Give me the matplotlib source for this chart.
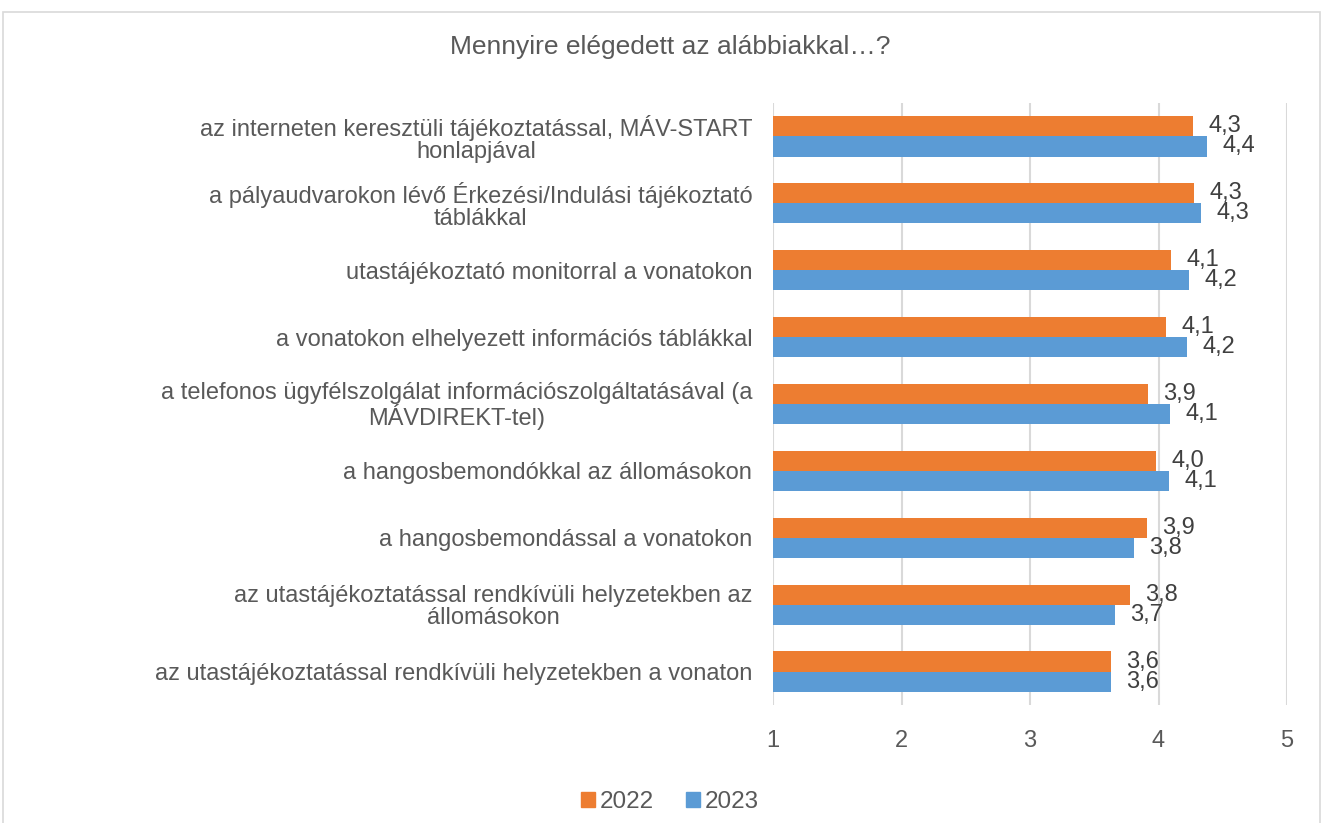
import matplotlib.pyplot as plt
from matplotlib.patches import Rectangle, Patch
import numpy as np

plt.rcParams['font.family'] = ['Liberation Sans', 'DejaVu Sans']

TEXT = "#595959"
ORANGE = "#ED7D31"
BLUE = "#5B9BD5"

title = "Mennyire elégedett az alábbiakkal…?"
categories = [
    "az interneten keresztüli tájékoztatással, MÁV-START\nhonlapjával",
    "a pályaudvarokon lévő Érkezési/Indulási tájékoztató\ntáblákkal",
    "utastájékoztató monitorral a vonatokon",
    "a vonatokon elhelyezett információs táblákkal",
    "a telefonos ügyfélszolgálat információszolgáltatásával (a\nMÁVDIREKT-tel)",
    "a hangosbemondókkal az állomásokon",
    "a hangosbemondással a vonatokon",
    "az utastájékoztatással rendkívüli helyzetekben az\nállomásokon",
    "az utastájékoztatással rendkívüli helyzetekben a vonaton",
]
vals_2022 = [4.27, 4.28, 4.10, 4.06, 3.92, 3.98, 3.91, 3.78, 3.63]
vals_2023 = [4.38, 4.33, 4.24, 4.22, 4.09, 4.08, 3.81, 3.66, 3.63]
series_names = ["2022", "2023"]
xticks = [1, 2, 3, 4, 5]

W, H = 1324, 823
fig = plt.figure(figsize=(W / 100, H / 100), dpi=100)
ax = fig.add_axes([773 / W, 1 - 705 / H, (1287 - 773) / W, (705 - 103) / H])

# outer chart frame
fig.patches.append(Rectangle((3 / W, -0.05), (1320 - 3) / W, 1.05 - 12 / H,
                             transform=fig.transFigure, fill=False,
                             edgecolor="#d9d9d9", linewidth=1.2))

y = np.arange(len(categories))
h = 0.3
bars1 = ax.barh(y - h / 2, np.array(vals_2022) - 1, left=1, height=h, color=ORANGE, zorder=3)
bars2 = ax.barh(y + h / 2, np.array(vals_2023) - 1, left=1, height=h, color=BLUE, zorder=3)

for bars, vals in [(bars1, vals_2022), (bars2, vals_2023)]:
    for b, v in zip(bars, vals):
        ax.annotate(f"{v:.1f}".replace(".", ","), (v, b.get_y() + b.get_height() / 2),
                    xytext=(11, 0), textcoords="offset points", ha="left", va="center",
                    fontsize=17, color="#404040")

ax.set_xlim(1, 5)
ax.set_ylim(len(categories) - 0.5, -0.5)
ax.set_xticks(xticks)
ax.set_xticklabels([str(t) for t in xticks], fontsize=17, color=TEXT)
ax.set_yticks(y)
ax.set_yticklabels(categories, fontsize=17, color=TEXT, multialignment="center",
                   linespacing=1.0)
ax.tick_params(axis="both", length=0)
ax.tick_params(axis="x", pad=18)
ax.tick_params(axis="y", pad=15)
ax.grid(axis="x", color="#d9d9d9", linewidth=1.5, zorder=0)
for s in ax.spines.values():
    s.set_visible(False)

fig.text(670 / W, 1 - 47 / H, title, ha="center", va="center", fontsize=19, color=TEXT)

handles = [Patch(color=ORANGE), Patch(color=BLUE)]
fig.legend(handles, series_names, loc="center", bbox_to_anchor=(670 / W, 1 - 802 / H),
           ncol=2, frameon=False, fontsize=17.5, handlelength=0.6, handleheight=0.6,
           handletextpad=0.2, columnspacing=1.3, labelcolor=TEXT)

fig.savefig("out.png", dpi=100)
